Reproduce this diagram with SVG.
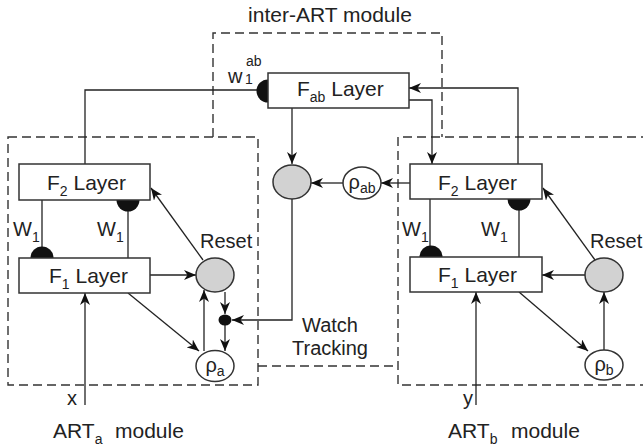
<svg xmlns="http://www.w3.org/2000/svg" width="643" height="447" viewBox="0 0 643 447">
<style>
text{font-family:"Liberation Sans",Arial,sans-serif;fill:#222}
.t{font-size:21px}
.m{font-size:20px}
.s{font-size:14px}
.box{fill:#fff;stroke:#333;stroke-width:1.5}
.gray{fill:#d2d2d2;stroke:#333;stroke-width:1.5}
.circ{fill:#fff;stroke:#333;stroke-width:1.5}
.dash{fill:none;stroke:#333;stroke-width:1.4;stroke-dasharray:9 5}
.ln{fill:none;stroke:#222;stroke-width:1.3}
.arr{marker-end:url(#ah)}
.disc{fill:#111}
</style>
<defs>
<marker id="ah" markerWidth="13" markerHeight="10" refX="12" refY="5" orient="auto" markerUnits="userSpaceOnUse"><path d="M0,0 L12,5 L0,10 L3.5,5 Z" fill="#111"/></marker>
</defs>

<g id="modules">
<path class="dash" d="M8,137 H258 V385 H8 Z"/>
<path class="dash" d="M213,137 V33 H442 V137"/>
<path class="dash" d="M258,366 H398"/>
<path class="dash" d="M650,137 H398 V385 H650"/>
<text class="t" x="330" y="22" text-anchor="middle">inter-ART module</text>
<text class="t" x="53" y="438">ART<tspan class="s" dy="6">a</tspan><tspan x="115" dy="-6">module</tspan></text>
<text class="t" x="448" y="438">ART<tspan class="s" dy="6">b</tspan><tspan x="511" dy="-6">module</tspan></text>
<text class="m" x="330" y="332" text-anchor="middle">Watch</text>
<text class="m" x="330" y="355" text-anchor="middle">Tracking</text>
</g>

<g id="connectors">
<path class="ln arr" d="M292,108 V164"/>
<path class="ln arr" d="M343,183 H311"/>
<path class="ln arr" d="M410,183 H381"/>
<path class="ln arr" d="M409,100 H432 V164"/>
<path class="ln arr" d="M518,164 V88 H409"/>
<path class="ln arr" d="M292,199 V320 H232"/>
<path class="ln" d="M257,90 H85 V164"/>
<path class="ln" d="M42,200 V247"/>
<path class="ln" d="M128,211 V258"/>
<path class="ln arr" d="M150,275 H196"/>
<path class="ln arr" d="M203,260 L151,188"/>
<path class="ln arr" d="M225,292 V314"/>
<path class="ln arr" d="M225,325 V351"/>
<path class="ln arr" d="M204,351 V290"/>
<path class="ln arr" d="M128,293 L199,351"/>
<path class="ln arr" d="M85,405 V293"/>
<path class="ln" d="M430,199 V246"/>
<path class="ln" d="M519,210 V257"/>
<path class="ln arr" d="M585,275 H542"/>
<path class="ln arr" d="M595,260 L543,188"/>
<path class="ln arr" d="M604,350 V292"/>
<path class="ln arr" d="M519,292 L588,351"/>
<path class="ln arr" d="M476,405 V292"/>
<path class="disc" d="M268,79.5 A11.5,11.5 0 0 0 268,102.5 Z"/>
<path class="disc" d="M116.5,200 A11.5,11.5 0 0 0 139.5,200 Z"/>
<path class="disc" d="M30.5,258 A11.5,11.5 0 0 1 53.5,258 Z"/>
<path class="disc" d="M507.5,199 A11.5,11.5 0 0 0 530.5,199 Z"/>
<path class="disc" d="M419.5,257 A11.5,11.5 0 0 1 442.5,257 Z"/>
<ellipse class="disc" cx="225" cy="320" rx="6.5" ry="5.5"/>
<text class="m" x="13" y="236">W<tspan class="s" dy="6">1</tspan></text>
<text class="m" x="97" y="236">W<tspan class="s" dy="6">1</tspan></text>
<text class="m" x="402" y="236">W<tspan class="s" dy="6">1</tspan></text>
<text class="m" x="481" y="236">W<tspan class="s" dy="6">1</tspan></text>
<text class="m" x="228" y="83">w</text>
<text class="s" x="245" y="84">1</text>
<text class="s" x="246" y="66">ab</text>
<text class="m" x="67" y="405">x</text>
<text class="m" x="463" y="405">y</text>
</g>

<g id="Fab">
<rect class="box" x="268" y="73" width="141" height="35"/>
<text class="t" x="297" y="96">F<tspan class="s" dy="6">ab</tspan><tspan dy="-6"> Layer</tspan></text>
</g>

<g id="mismatch">
<ellipse class="gray" cx="292" cy="182" rx="19" ry="17"/>
</g>

<g id="rho_ab">
<ellipse class="circ" cx="362" cy="183" rx="19" ry="16"/>
<text class="m" x="362" y="189" text-anchor="middle">ρ<tspan class="s" dy="4">ab</tspan></text>
</g>

<g id="F2a">
<rect class="box" x="19" y="164" width="131" height="36"/>
<text class="t" x="47" y="190">F<tspan class="s" dy="6">2</tspan><tspan dy="-6"> Layer</tspan></text>
</g>

<g id="F1a">
<rect class="box" x="19" y="258" width="131" height="35"/>
<text class="t" x="49" y="283">F<tspan class="s" dy="6">1</tspan><tspan dy="-6"> Layer</tspan></text>
</g>

<g id="ResetA">
<ellipse class="gray" cx="215" cy="275" rx="19" ry="17"/>
<text class="m" x="200" y="248">Reset</text>
</g>

<g id="rho_a">
<ellipse class="circ" cx="215" cy="366" rx="19" ry="15.5"/>
<text class="m" x="215" y="372" text-anchor="middle">ρ<tspan class="s" dy="4">a</tspan></text>
</g>

<g id="F2b">
<rect class="box" x="410" y="164" width="132" height="35"/>
<text class="t" x="438" y="190">F<tspan class="s" dy="6">2</tspan><tspan dy="-6"> Layer</tspan></text>
</g>

<g id="F1b">
<rect class="box" x="410" y="257" width="132" height="35"/>
<text class="t" x="438" y="282">F<tspan class="s" dy="6">1</tspan><tspan dy="-6"> Layer</tspan></text>
</g>

<g id="ResetB">
<ellipse class="gray" cx="604" cy="275" rx="19" ry="17"/>
<text class="m" x="590" y="248">Reset</text>
</g>

<g id="rho_b">
<ellipse class="circ" cx="604" cy="365" rx="19" ry="15"/>
<text class="m" x="604" y="371" text-anchor="middle">ρ<tspan class="s" dy="4">b</tspan></text>
</g>
</svg>
